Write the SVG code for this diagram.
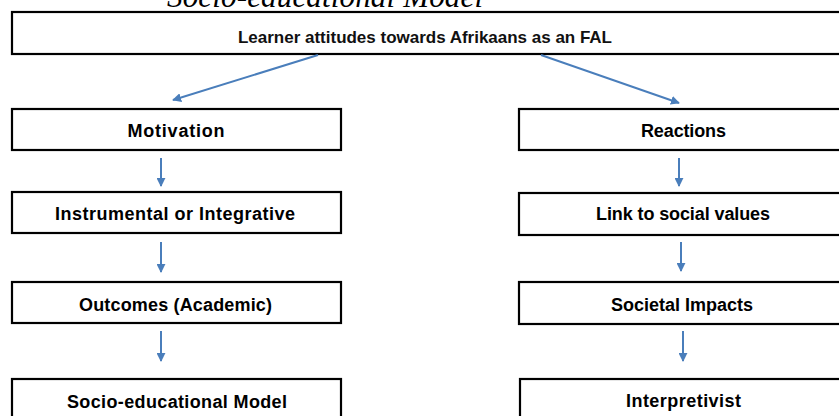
<svg xmlns="http://www.w3.org/2000/svg" width="839" height="416" viewBox="0 0 839 416">
  <style>
    .box { fill: #ffffff; stroke: #000000; stroke-width: 2.2; }
    .lbl { font-family: "Liberation Sans", Arial, sans-serif; font-weight: bold; font-size: 18px; fill: #000000; text-anchor: middle; }
    .top { font-family: "Liberation Sans", Arial, sans-serif; font-weight: bold; font-size: 17px; fill: #111111; }
    .cap { font-family: "Liberation Serif", "Times New Roman", serif; font-style: italic; font-size: 31px; fill: #000000; }
    .link { stroke: #4a7ebb; stroke-width: 2; fill: none; marker-end: url(#arrow); }
  </style>
  <defs>
    <marker id="arrow" viewBox="0 0 10 10" refX="9" refY="5" markerWidth="4.5" markerHeight="4.5" orient="auto" markerUnits="strokeWidth">
      <path d="M0,0 L10,5 L0,10 z" fill="#4a7ebb"/>
    </marker>
  </defs>
  <rect width="839" height="416" fill="#ffffff"/>

  <!-- heading, clipped at the top edge -->
  <text class="cap" x="167" y="7" textLength="316">Socio-educational Model</text>

  <g id="root">
    <rect class="box" x="12" y="12" width="840" height="42"/>
    <text class="top" x="238" y="43" textLength="374">Learner attitudes towards Afrikaans as an FAL</text>
  </g>

  <g id="motivation">
    <rect class="box" x="12" y="109" width="329" height="41"/>
    <text class="lbl" x="176" y="136.5" textLength="97">Motivation</text>
  </g>
  <g id="instrumental">
    <rect class="box" x="12" y="192" width="329" height="41"/>
    <text class="lbl" x="175" y="219.5" textLength="240">Instrumental or Integrative</text>
  </g>
  <g id="outcomes">
    <rect class="box" x="12" y="282" width="329" height="41"/>
    <text class="lbl" x="175.5" y="311" textLength="193">Outcomes (Academic)</text>
  </g>
  <g id="socio-educational">
    <rect class="box" x="12" y="379" width="329" height="50"/>
    <text class="lbl" x="177" y="408" textLength="220">Socio-educational Model</text>
  </g>

  <g id="reactions">
    <rect class="box" x="519" y="109" width="330" height="41"/>
    <text class="lbl" x="683.5" y="136.5" textLength="85">Reactions</text>
  </g>
  <g id="social-values">
    <rect class="box" x="519" y="193" width="330" height="42"/>
    <text class="lbl" x="683" y="220" textLength="174">Link to social values</text>
  </g>
  <g id="societal-impacts">
    <rect class="box" x="519" y="282" width="330" height="42"/>
    <text class="lbl" x="682" y="311" textLength="142">Societal Impacts</text>
  </g>
  <g id="interpretivist">
    <rect class="box" x="520" y="379" width="330" height="50"/>
    <text class="lbl" x="683.5" y="407" textLength="115">Interpretivist</text>
  </g>

  <g id="connectors">
    <line class="link" x1="318" y1="55" x2="173" y2="100"/>
    <line class="link" x1="541" y1="55" x2="679" y2="103"/>
    <line class="link" x1="161" y1="158" x2="161" y2="186"/>
    <line class="link" x1="161" y1="242" x2="161" y2="272"/>
    <line class="link" x1="161" y1="331" x2="161" y2="361"/>
    <line class="link" x1="679" y1="158" x2="679" y2="186"/>
    <line class="link" x1="681" y1="242" x2="681" y2="271"/>
    <line class="link" x1="683" y1="331" x2="683" y2="361"/>
  </g>
</svg>
